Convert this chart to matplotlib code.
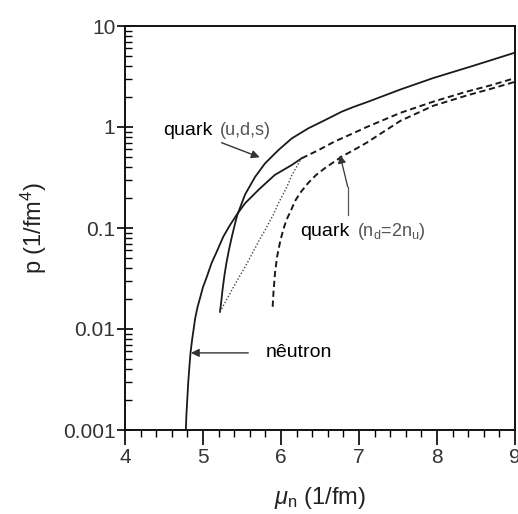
import matplotlib
matplotlib.use("Agg")
import matplotlib.pyplot as plt
from matplotlib.ticker import LogLocator, MultipleLocator, FixedLocator

# ---- data ----
neutron_mu = [4.78, 4.787, 4.795, 4.81, 4.825, 4.84, 4.86, 4.876, 4.90, 4.93, 4.96, 5.00, 5.05,
              5.11, 5.175, 5.26, 5.34, 5.44, 5.54, 5.71, 5.92, 6.137, 6.265]
neutron_p = [0.001, 0.0014, 0.0018, 0.0029, 0.0042, 0.0058, 0.0078, 0.0095, 0.0128, 0.0165, 0.020,
             0.026, 0.033, 0.045, 0.058, 0.082, 0.105, 0.138, 0.176, 0.238, 0.335, 0.42, 0.49]

neutron_ext_mu = [6.265, 6.48, 6.69, 6.93, 7.1, 7.53, 7.95, 8.38, 8.7, 9.0]
neutron_ext_p = [0.49, 0.59, 0.72, 0.87, 1.0, 1.38, 1.78, 2.24, 2.6, 3.05]

quark_uds_mu = [5.218, 5.235, 5.25, 5.275, 5.30, 5.335, 5.37, 5.41, 5.44, 5.54, 5.667, 5.795,
                5.966, 6.137, 6.35, 6.564, 6.78, 6.93, 7.1, 7.53, 7.95, 8.47, 9.0]
quark_uds_p = [0.0148, 0.019, 0.0243, 0.034, 0.045, 0.062, 0.082, 0.11, 0.135, 0.215, 0.32, 0.436,
               0.59, 0.77, 0.97, 1.17, 1.42, 1.58, 1.76, 2.35, 3.05, 4.05, 5.45]

quark_nd_mu = [5.893, 5.905, 5.923, 5.95, 5.99, 6.03, 6.07, 6.137, 6.18, 6.25, 6.35, 6.45, 6.56,
               6.78, 6.93, 7.1, 7.53, 7.95, 8.38, 8.7, 9.0]
quark_nd_p = [0.0166, 0.024, 0.0356, 0.052, 0.074, 0.097, 0.12, 0.155, 0.185, 0.225, 0.28, 0.335,
              0.39, 0.51, 0.59, 0.70, 1.15, 1.62, 2.05, 2.4, 2.8]

mixed_mu = [5.218, 5.39, 5.56, 5.73, 5.795, 5.90, 5.966, 6.07, 6.137, 6.24, 6.265]
mixed_p = [0.0148, 0.026, 0.044, 0.078, 0.095, 0.135, 0.175, 0.25, 0.33, 0.46, 0.49]

x_ticks = [4, 5, 6, 7, 8, 9]
y_ticks = [0.001, 0.01, 0.1, 1, 10]
y_tick_labels = ["0.001", "0.01", "0.1", "1", "10"]

# ---- figure ----
plt.rcParams['font.family'] = ['Liberation Sans', 'DejaVu Sans']
plt.rcParams['mathtext.fontset'] = 'custom'
plt.rcParams['mathtext.rm'] = 'Liberation Sans'
plt.rcParams['mathtext.it'] = 'Liberation Sans:italic'

fig = plt.figure(figsize=(5.18, 5.14), dpi=100)
ax = fig.add_axes([125/518, 1 - 430/514, 390/518, 404/514])

lc = '#1a1a1a'
ax.plot(neutron_mu, neutron_p, color=lc, lw=1.3)
ax.plot(neutron_ext_mu, neutron_ext_p, color=lc, lw=1.4, ls=(0, (3.2, 1.9)))
ax.plot(quark_uds_mu, quark_uds_p, color=lc, lw=1.3)
ax.plot(quark_nd_mu, quark_nd_p, color=lc, lw=1.4, ls=(0, (3.2, 1.9)))
ax.plot(mixed_mu, mixed_p, color='#444444', lw=1.0, ls=(0, (1, 1.4)))

ax.set_yscale('log')
ax.set_xlim(4, 9)
ax.set_ylim(0.001, 10)

ax.xaxis.set_major_locator(FixedLocator(x_ticks))
ax.xaxis.set_minor_locator(MultipleLocator(0.2))
ax.yaxis.set_major_locator(FixedLocator(y_ticks))
ax.set_yticklabels(y_tick_labels)
ax.yaxis.set_minor_locator(LogLocator(base=10, subs=range(2, 10), numticks=20))
ax.yaxis.set_minor_formatter(plt.NullFormatter())

tick_col = '#333333'
ax.tick_params(axis='x', which='major', direction='out', length=11, width=1.2,
               labelsize=15, labelcolor=tick_col, pad=2)
ax.tick_params(axis='x', which='minor', direction='out', length=5, width=1.0)
ax.tick_params(axis='y', which='major', direction='inout', length=12, width=1.2,
               labelsize=15, labelcolor=tick_col, pad=1)
ax.tick_params(axis='y', which='minor', direction='in', length=5, width=1.0)
for s in ax.spines.values():
    s.set_linewidth(1.4)
    s.set_color('#111111')

ax.set_xlabel(r'$\mathit{\mu}_{\mathregular{n}}$ (1/fm)', fontsize=17, color='#222222', labelpad=13)
ax.set_ylabel(r'p (1/fm$^{\mathregular{4}}$)', fontsize=17, color='#222222', labelpad=10)

# ---- annotations ----
ax.text(4.483, 0.93, 'quark', fontsize=14, color='black', ha='left', va='center')
ax.text(5.218, 0.93, '(u,d,s)', fontsize=13, color='#555555', ha='left', va='center')
ax.annotate('', xy=(5.76, 0.49), xytext=(5.205, 0.715),
            arrowprops=dict(arrowstyle='-|>', color='#333333', lw=1.0, mutation_scale=12))

ax.text(6.244, 0.093, 'quark', fontsize=14, color='black', ha='left', va='center')
ax.text(6.974, 0.093, r'(n$_{\mathregular{d}}$=2n$_{\mathregular{u}}$)', fontsize=13,
        color='#555555', ha='left', va='center')
ax.plot([6.855, 6.855], [0.1346, 0.2565], color='#555555', lw=0.9)
ax.annotate('', xy=(6.756, 0.528), xytext=(6.855, 0.2565),
            arrowprops=dict(arrowstyle='-|>', color='#333333', lw=0.9, mutation_scale=12,
                            shrinkA=0, shrinkB=0))

ax.text(5.804, 0.0058, 'nêutron', fontsize=14, color='black', ha='left', va='center')
ax.annotate('', xy=(4.845, 0.0058), xytext=(5.58, 0.0058),
            arrowprops=dict(arrowstyle='-|>', color='#333333', lw=1.0, mutation_scale=12,
                            shrinkA=0, shrinkB=0))

fig.savefig('out.png', dpi=100)
